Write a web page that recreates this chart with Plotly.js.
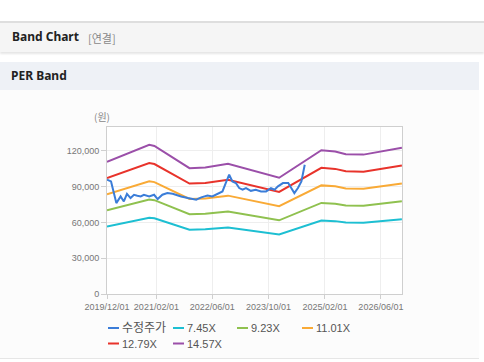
<!DOCTYPE html>
<html>
<head>
<meta charset="utf-8">
<script src="https://cdn.plot.ly/plotly-3.0.1.min.js"></script>
<style>
html,body{margin:0;padding:0;background:#fff;width:484px;height:362px;overflow:hidden;font-family:"Noto Sans","Noto Sans CJK KR",sans-serif;}
#hdr{position:absolute;left:0;top:21px;width:484px;height:29px;background:#f5f5f5;border-top:2px solid #dedede;box-shadow:0 2px 2px rgba(0,0,0,0.10);}
#hdr .t{position:absolute;left:12px;top:6px;font-size:12px;font-weight:bold;color:#222;line-height:16px;}
#hdr .s{position:absolute;left:88px;top:7px;font-size:11px;color:#888;line-height:16px;font-family:"Noto Sans CJK KR",sans-serif;}
#sec{position:absolute;left:0;top:62px;width:479px;height:28px;background:#eef1f6;}
#sec .t{position:absolute;left:11px;top:6px;font-size:12px;font-weight:bold;color:#222;line-height:16px;}
#body{position:absolute;left:0;top:90px;width:479px;height:268px;background:#fcfcfc;border-bottom:1px solid #e6e6e6;}
#chart{position:absolute;left:0;top:0;width:484px;height:362px;}
</style>
</head>
<body>
<div id="hdr"><span class="t">Band Chart</span><span class="s">[연결]</span></div>
<div id="sec"><span class="t">PER Band</span></div>
<div id="body"></div>
<div id="chart"></div>
<script>
// Price (수정주가)
const priceDates = ["2019-12-01","2020-01-05","2020-02-20","2020-03-28","2020-04-25","2020-05-22","2020-06-22","2020-07-22","2020-08-20","2020-09-18","2020-10-16","2020-12-01","2021-01-12","2021-02-12","2021-03-25","2021-05-07","2021-06-22","2021-07-22","2021-09-03","2021-11-01","2021-12-12","2022-01-12","2022-02-25","2022-04-20","2022-06-01","2022-07-12","2022-08-28","2022-09-25","2022-10-25","2022-11-22","2022-12-22","2023-01-20","2023-02-18","2023-03-20","2023-05-01","2023-06-12","2023-07-28","2023-09-10","2023-10-22","2023-11-22","2023-12-22","2024-02-03","2024-03-20","2024-04-15","2024-05-12","2024-06-12","2024-07-12","2024-08-10"];
const priceValues = [95800,94400,76200,81800,77600,84000,80400,83200,82400,81800,83200,81800,83200,79600,83200,84600,84000,82900,81800,80400,79600,79000,81000,82600,81800,83800,86000,93000,100000,94400,93000,88800,87400,88800,86500,87400,86000,86000,88800,87400,90200,93000,93000,88800,84600,88800,94400,108400];

// Band dates
const bandDates = ["2019-12-01","2020-12-01","2021-01-15","2021-11-15","2022-04-01","2022-06-01","2022-10-15","2024-01-01","2025-01-01","2025-05-01","2025-08-01","2026-01-01","2026-06-01","2026-11-30"];
const band745 = [56620,63920,63470,53940,54240,54680,55800,49840,61610,61090,59900,59750,61090,62730];
const band923 = [70150,79190,78640,66830,67190,67750,69130,61750,76330,75690,74210,74020,75690,77720];
const band1101 = [83680,94470,93810,79710,80150,80810,82460,73660,91050,90280,88520,88300,90280,92700];
const band1279 = [97200,109740,108970,92600,93110,93880,95800,85570,105770,104880,102830,102580,104880,107690];
const band1457 = [110730,125010,124140,105490,106070,106940,109130,97470,120490,119470,117140,116850,119470,122680];

const seriesNames = ["수정주가","7.45X","9.23X","11.01X","12.79X","14.57X"];
const seriesColors = ["#3b7dd8","#1dbfd2","#8fc14f","#f9aa36","#e8332b","#9b4fa9"];

const xTickVals = ["2019-12-01","2021-02-01","2022-06-01","2023-10-01","2025-02-01","2026-06-01"];
const xTickText = ["2019/12/01","2021/02/01","2022/06/01","2023/10/01","2025/02/01","2026/06/01"];
const yTickVals = [0,30000,60000,90000,120000];
const yTickText = ["0","30,000","60,000","90,000","120,000"];

const bandSeries = [band745, band923, band1101, band1279, band1457];
const traces = [];
bandSeries.forEach((b,i)=>{
  traces.push({x:bandDates,y:b,type:"scatter",mode:"lines",name:seriesNames[i+1],
    line:{color:seriesColors[i+1],width:2},hoverinfo:"skip"});
});
traces.push({x:priceDates,y:priceValues,type:"scatter",mode:"lines",name:seriesNames[0],
  line:{color:seriesColors[0],width:2}});

// plot area in pixels
const L=107,R=402,T=127,B=294;
const W=484,H=362;
const pw=R-L, ph=B-T;
const px=(x)=>(x-L)/pw;
const py=(y)=>(B-y)/ph;

// legend layout (decoration)
const legPos=[[108,328],[173,328],[237,328],[302,328],[108,343.5],[173,343.5]];
const shapes=[], annotations=[];
seriesNames.forEach((n,i)=>{
  const [lx,ly]=legPos[i];
  shapes.push({type:"line",xref:"paper",yref:"paper",x0:px(lx),x1:px(lx+11),y0:py(ly),y1:py(ly),
    line:{color:seriesColors[i],width:2}});
  annotations.push({xref:"paper",yref:"paper",x:px(lx+12),y:py(ly),xanchor:"left",yanchor:"middle",
    text:n,showarrow:false,font:{family:"Liberation Sans, Noto Sans CJK KR, sans-serif",size:i===0?12:11,color:"#555"}});
});
annotations.push({xref:"paper",yref:"paper",x:px(102),y:py(116),xanchor:"center",yanchor:"middle",
  text:"(원)",showarrow:false,font:{family:"Noto Sans CJK KR, sans-serif",size:10,color:"#888"}});

const layout={
  width:W,height:H,
  margin:{l:L,r:W-R,t:T,b:H-B,pad:0},
  paper_bgcolor:"rgba(0,0,0,0)",plot_bgcolor:"#ffffff",
  showlegend:false,
  xaxis:{type:"date",range:["2019-12-01","2026-12-01"],tickvals:xTickVals,ticktext:xTickText,tickangle:0,
    showgrid:true,gridcolor:"#eeeeee",gridwidth:1,showline:true,linecolor:"#cfcfcf",linewidth:1,mirror:true,
    ticks:"outside",ticklen:4,tickcolor:"#cfcfcf",zeroline:false,
    tickfont:{family:"Liberation Sans, sans-serif",size:9,color:"#777"}},
  yaxis:{range:[0,140000],tickvals:yTickVals,ticktext:yTickText,
    showgrid:true,gridcolor:"#eeeeee",gridwidth:1,showline:true,linecolor:"#cfcfcf",linewidth:1,mirror:true,
    ticks:"outside",ticklen:5,tickcolor:"#cfcfcf",zeroline:false,
    tickfont:{family:"Liberation Sans, sans-serif",size:9,color:"#777"}},
  shapes:shapes,annotations:annotations
};
Plotly.newPlot("chart",traces,layout,{staticPlot:true,displayModeBar:false});
</script>
</body>
</html>
